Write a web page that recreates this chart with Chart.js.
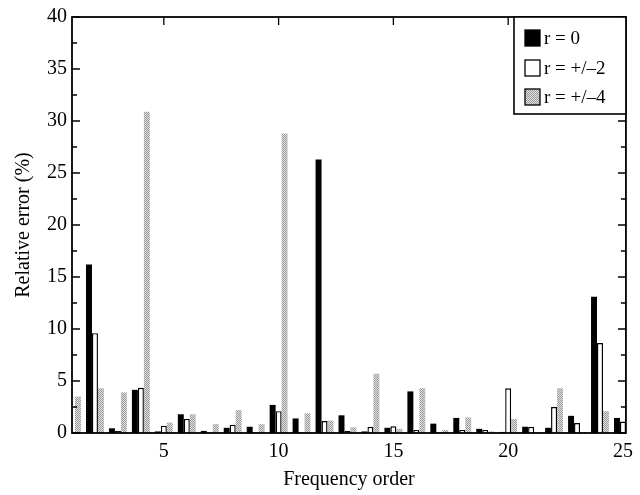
<!DOCTYPE html>
<html><head><meta charset="utf-8">
<script src="https://cdn.jsdelivr.net/npm/chart.js@4/dist/chart.umd.min.js"></script>
<style>html,body{margin:0;padding:0;background:#fff}#wrap{width:640px;height:495px;position:relative}</style>
</head><body><div id="wrap"><canvas id="c" width="640" height="495"></canvas></div>
<script>
// ---- data ----
const orders = [1,2,3,4,5,6,7,8,9,10,11,12,13,14,15,16,17,18,19,20,21,22,23,24,25];
const errR0 = [0,16.2,0.45,4.15,0.15,1.8,0.2,0.5,0.6,2.7,1.4,26.3,1.7,0.15,0.5,4.0,0.9,1.45,0.4,0.1,0.6,0.5,1.65,13.1,1.45];
const errR2 = [0,9.6,0.2,4.35,0.7,1.35,0.05,0.8,0.1,2.1,0.1,1.15,0.2,0.6,0.65,0.3,0.1,0.3,0.3,4.3,0.6,2.5,0.95,8.65,1.1];
const errR4 = [3.5,4.3,3.9,30.9,1.0,1.8,0.85,2.2,0.85,28.8,1.9,1.2,0.55,5.7,0.4,4.3,0.3,1.5,0.15,1.35,0.1,4.3,0.1,2.1,0];
const seriesNames = ['r = 0','r = +/\u20132','r = +/\u20134'];
const xTickValues = [5,10,15,20,25];
const yTickValues = [0,5,10,15,20,25,30,35,40];
const xTitle = 'Frequency order';
const yTitle = 'Relative error (%)';

const FONT = "'Liberation Serif','DejaVu Serif',serif";
const canvas = document.getElementById('c');
const ctx0 = canvas.getContext('2d');

function grayPattern(){
  const p = document.createElement('canvas'); p.width = 2; p.height = 2;
  const g = p.getContext('2d');
  g.fillStyle = '#e2e2e2'; g.fillRect(0,0,2,2);
  g.fillStyle = '#999999';
  g.fillRect(0,0,1,1); g.fillRect(1,1,1,1);
  return ctx0.createPattern(p,'repeat');
}
const GRAY = grayPattern();

const toPts = arr => orders.map((o,i)=>({x:o,y:arr[i]}));

const framePlugin = {
  id:'frame',
  afterDatasetsDraw(chart){
    const {ctx, chartArea:a, scales:{x,y}} = chart;
    ctx.save();
    ctx.strokeStyle = '#000'; ctx.lineWidth = 1.8;
    ctx.strokeRect(a.left, a.top, a.right-a.left, a.bottom-a.top);
    ctx.lineWidth = 1.3;
    ctx.beginPath();
    for (let v=0; v<=40; v+=2.5){
      const py = y.getPixelForValue(v);
      const len = (v%5===0)?8:5;
      ctx.moveTo(a.left, py); ctx.lineTo(a.left+len, py);
      ctx.moveTo(a.right, py); ctx.lineTo(a.right-len, py);
    }
    xTickValues.forEach(v=>{
      const px = x.getPixelForValue(v);
      ctx.moveTo(px, a.top); ctx.lineTo(px, a.top+8);
    });
    ctx.stroke();
    // legend
    const lx = 514, ly = a.top, lw = a.right-514, lh = 97;
    ctx.fillStyle = '#fff'; ctx.fillRect(lx, ly, lw, lh);
    ctx.lineWidth = 1.6; ctx.strokeRect(lx, ly, lw, lh);
    const rows = [38,68,97];
    chart.data.datasets.forEach((ds,i)=>{
      const cy = rows[i];
      ctx.fillStyle = ds.backgroundColor;
      ctx.fillRect(525, cy-8, 15, 16);
      ctx.lineWidth = 1.3; ctx.strokeStyle = '#000';
      ctx.strokeRect(525, cy-8, 15, 16);
      ctx.fillStyle = '#000';
      ctx.font = '19px ' + FONT;
      ctx.textBaseline = 'middle'; ctx.textAlign = 'left';
      ctx.fillText(ds.label, 544, cy+1);
    });
    ctx.restore();
  }
};

new Chart(canvas, {
  type:'bar',
  data:{
    datasets:[
      {label:seriesNames[0], data:toPts(errR0), backgroundColor:'#000', borderWidth:0},
      {label:seriesNames[1], data:toPts(errR2), backgroundColor:'#fff', borderColor:'#000', borderWidth:1.4},
      {label:seriesNames[2], data:toPts(errR4), backgroundColor:GRAY, borderWidth:0}
    ]
  },
  options:{
    responsive:false, animation:false, devicePixelRatio:1,
    layout:{padding:{left:0,right:10,top:16,bottom:0}},
    categoryPercentage:0.78, barPercentage:1.0,
    plugins:{legend:{display:false}, tooltip:{enabled:false}},
    scales:{
      x:{
        type:'linear', min:1, max:25.13, offset:false,
        grid:{display:false, drawTicks:false}, border:{display:false},
        afterBuildTicks(s){ s.ticks = xTickValues.map(v=>({value:v})); },
        afterFit(s){ s.height = 62; },
        ticks:{color:'#000', font:{family:FONT,size:20}, padding:7, maxRotation:0, autoSkip:false},
        title:{display:true, text:xTitle, color:'#000', font:{family:FONT,size:20}, padding:{top:0,bottom:3}}
      },
      y:{
        min:0, max:40,
        grid:{display:false, drawTicks:false}, border:{display:false},
        afterBuildTicks(s){ s.ticks = yTickValues.map(v=>({value:v})); },
        afterFit(s){ s.width = 72; },
        ticks:{color:'#000', font:{family:FONT,size:20}, padding:5},
        title:{display:true, text:yTitle, color:'#000', font:{family:FONT,size:20}, padding:{top:12,bottom:0}}
      }
    }
  },
  plugins:[framePlugin]
});
</script></body></html>
